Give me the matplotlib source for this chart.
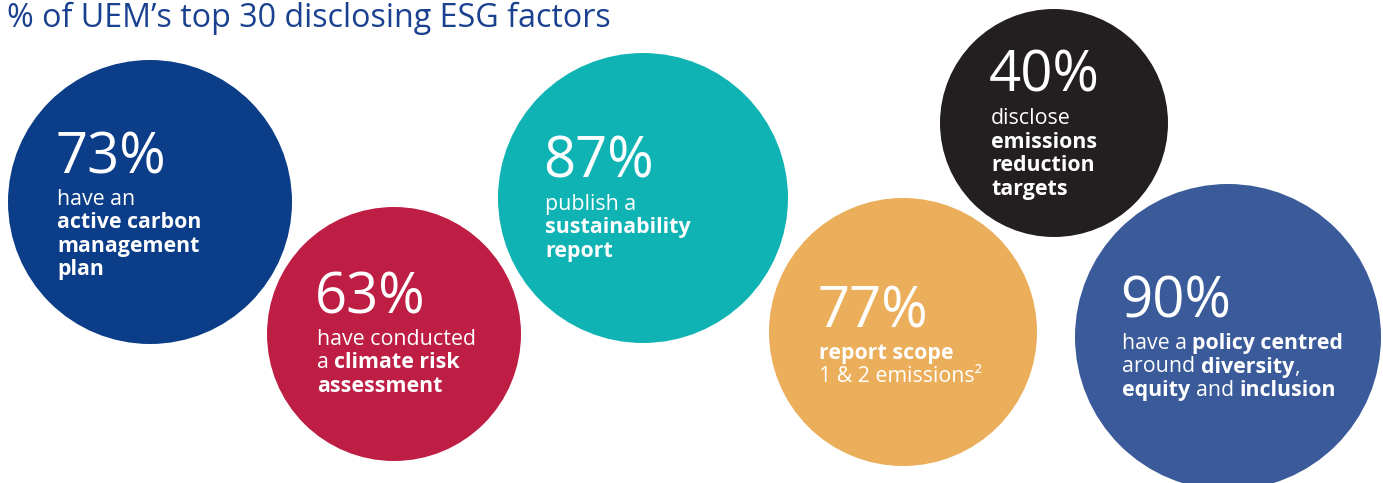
import matplotlib
matplotlib.use("Agg")
import matplotlib.pyplot as plt
from matplotlib.patches import Circle

FONT = ["Open Sans", "DejaVu Sans"]

title = "% of UEM\u2019s top 30 disclosing ESG factors"
values = [73, 63, 87, 77, 40, 90]
# each caption line is a list of (text, bold, space_before)
captions = [
    [[("have an", False, False)],
     [("active carbon", True, False)],
     [("management", True, False)],
     [("plan", True, False)]],
    [[("have conducted", False, False)],
     [("a", False, False), ("climate risk", True, True)],
     [("assessment", True, False)]],
    [[("publish a", False, False)],
     [("sustainability", True, False)],
     [("report", True, False)]],
    [[("report scope", True, False)],
     [("1 & 2 emissions\u00b2", False, False)]],
    [[("disclose", False, False)],
     [("emissions", True, False)],
     [("reduction", True, False)],
     [("targets", True, False)]],
    [[("have a", False, False), ("policy centred", True, True)],
     [("around", False, False), ("diversity", True, True), (",", False, False)],
     [("equity", True, False), ("and", False, True), ("inclusion", True, True)]],
]
colors = ["#0B3D88", "#BE1E44", "#10B3B3", "#EBAE5A", "#231F20", "#3A5A9A"]

# layout in pixel units (y grows downward)
centers = [(150, 202), (394, 334), (643, 198), (903, 332), (1054, 123), (1228, 337)]
radii = [142, 127, 145, 134, 114, 153]
num_pos = [(55, 173), (315, 313), (543, 178), (817, 327), (989, 92), (1120, 317)]
line_gap = 23.5
first_gap = 32

W, H = 1383, 483
fig = plt.figure(figsize=(W / 100, H / 100), dpi=100)
ax = fig.add_axes([0, 0, 1, 1])
ax.set_xlim(0, W)
ax.set_ylim(H, 0)
ax.axis("off")

for (cx, cy), r, c in zip(centers, radii, colors):
    ax.add_patch(Circle((cx, cy), r, color=c, lw=0))

ax.text(7, 27, title, fontsize=23.2, color="#1A4190", family=FONT,
        va="baseline", ha="left")

renderer = fig.canvas.get_renderer()


def text_width(s, bold, size):
    t = ax.text(0, 0, s, fontsize=size, family=FONT,
                fontweight="bold" if bold else "normal")
    w = t.get_window_extent(renderer).width
    t.remove()
    return w


body_size = 15.4
space_w = text_width("x x", False, body_size) - text_width("xx", False, body_size)

for v, lines, (nx, ny) in zip(values, captions, num_pos):
    ax.text(nx, ny, f"{v}%", fontsize=40.5, color="white", family=FONT,
            fontweight="medium", va="baseline", ha="left")
    y = ny + first_gap
    for runs in lines:
        x = nx + 2
        for s, bold, sp in runs:
            if sp:
                x += space_w
            t = ax.text(x, y, s, fontsize=body_size, color="white", family=FONT,
                        fontweight="bold" if bold else "normal",
                        va="baseline", ha="left")
            x += t.get_window_extent(renderer).width
        y += line_gap

fig.savefig("out.png", dpi=100, facecolor="white")
